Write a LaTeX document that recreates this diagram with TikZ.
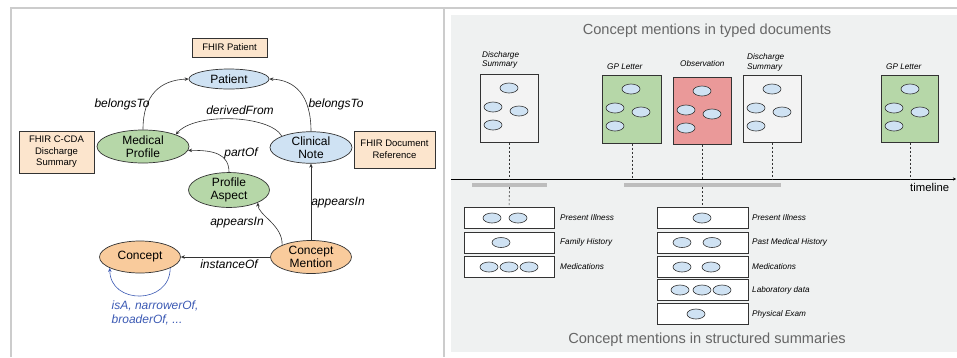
\documentclass[tikz,border=0pt]{standalone}
\usepackage{fontspec}
\setmainfont{Liberation Sans}
\usetikzlibrary{shapes.geometric,arrows.meta,calc}
\definecolor{frameC}{HTML}{CCCCCC}
\definecolor{panelC}{HTML}{EFF1F1}
\definecolor{blueC}{HTML}{CFE2F3}
\definecolor{greenC}{HTML}{B6D7A8}
\definecolor{orangeC}{HTML}{F9CB9C}
\definecolor{fhirC}{HTML}{FCE5CD}
\definecolor{redC}{HTML}{EA9999}
\definecolor{docC}{HTML}{F3F3F3}
\definecolor{loopC}{HTML}{3C5AB4}
\definecolor{titleC}{HTML}{666666}
\definecolor{barC}{HTML}{BDBDBD}
\definecolor{lineC}{HTML}{333333}
\tikzset{
 ell/.style={ellipse, draw=lineC, line width=0.7pt, inner sep=0pt, align=center, font=\fontsize{12}{13.5}\selectfont},
 fhir/.style={draw=lineC, fill=fhirC, line width=0.7pt, inner sep=0pt, align=center, font=\fontsize{9.5}{11.5}\selectfont},
 lbl/.style={font=\fontsize{12}{14}\selectfont\itshape, inner sep=0pt},
 rel/.style={line width=0.6pt, draw=lineC, -{Stealth[length=4pt,width=3.5pt]}},
 mini/.style={ellipse, draw=lineC, fill=blueC, minimum width=18pt, minimum height=10pt, inner sep=0pt, line width=0.6pt},
 docbox/.style={draw=lineC, line width=0.7pt, minimum width=58pt, minimum height=68pt, inner sep=0pt},
 rowbox/.style={draw=lineC, fill=white, line width=0.7pt, minimum height=21pt, inner sep=0pt},
 small/.style={font=\fontsize{8.2}{9.7}\selectfont\itshape, inner sep=0pt, align=left},
 dashln/.style={dash pattern=on 2pt off 2pt, line width=0.6pt, draw=lineC},
 title/.style={font=\fontsize{14.6}{16}\selectfont, text=titleC, inner sep=0pt},
}
\begin{document}
\begin{tikzpicture}[x=1pt,y=-1pt]
\fill[white] (0,0) rectangle (957,357);
\useasboundingbox (0,0) rectangle (957,357);
% frame
\draw[frameC, line width=2pt] (11,357) -- (11,7.5) -- (957,7.5);
\draw[frameC, line width=2pt] (443.7,7.5) -- (443.7,357);
\fill[panelC] (451,15) rectangle (957,352);

% ---------- left panel ----------
\node[fhir, minimum width=75pt, minimum height=19pt] (fp) at (229.5,47.5) {FHIR Patient};
\node[fhir, minimum width=75pt, minimum height=42pt] (fc) at (56.5,152) {FHIR C-CDA\\Discharge\\Summary};
\node[fhir, minimum width=81pt, minimum height=37pt] (fd) at (394.5,149.5) {FHIR Document\\Reference};

\node[ell, fill=blueC, minimum width=80pt, minimum height=20pt] (pat) at (229,79) {Patient};
\node[ell, fill=greenC, minimum width=92pt, minimum height=33pt] (mp) at (143,146.5) {Medical\\Profile};
\node[ell, fill=blueC, minimum width=82pt, minimum height=31pt] (cn) at (311,147.5) {Clinical\\Note};
\node[ell, fill=greenC, minimum width=81pt, minimum height=30pt] (pa) at (229,190) {Profile\\Aspect};
\node[ell, fill=orangeC, minimum width=81pt, minimum height=33pt] (cm) at (311,257) {Concept\\Mention};
\node[ell, fill=orangeC, minimum width=81pt, minimum height=32pt] (con) at (140,257) {Concept};

\draw[rel] (mp.north) .. controls (143,95) and (160,80) .. (pat.west);
\draw[rel] (cn.north) .. controls (311,95) and (295,80) .. (pat.east);
\draw[rel] (cn.north west) .. controls (270,115) and (195,112) .. (mp.north east);
\draw[rel] (pa.north) .. controls (229,154) and (214,150) .. (mp.-5);
\draw[rel] (cm.north west) .. controls (283,225) and (258,215) .. (pa.south east);
\draw[rel] (cm.north) -- (cn.south);
\draw[rel] (cm.west) -- (con.east);
\draw[rel, draw=loopC] (con.-20) .. controls (170,305) and (110,305) .. (con.-160);

\node[lbl] (l1) at (122,104) {belongsTo};
\node[lbl] (l2) at (336,104) {belongsTo};
\node[lbl] (l3) at (240,110) {derivedFrom};
\node[lbl] (l4) at (241,153) {partOf};
\node[lbl] (l5) at (237,223) {appearsIn};
\node[lbl] (l6) at (338,203) {appearsIn};
\node[lbl] (l7) at (229,264) {instanceOf};
\node[lbl, text=loopC, anchor=west, align=left, font=\fontsize{12}{14}\selectfont\itshape] (l8) at (111.5,313) {isA, narrowerOf,\\broaderOf, ...};

% ---------- right panel ----------
\node[title] (t1) at (707,31) {Concept mentions in typed documents};
\node[title] (t2) at (707,339.5) {Concept mentions in structured summaries};

\coordinate (tl0) at (451,179);
\coordinate (tl1) at (956,179);
\draw[line width=0.8pt, black, -{Stealth[length=3pt,width=3pt]}] (tl0) -- (tl1);
\node[font=\fontsize{11.3}{13}\selectfont, inner sep=0pt, anchor=west] (tlt) at (910,187) {timeline};

\node[docbox, fill=docC, anchor=north west] (d1) at (480,74) {};
\node[docbox, fill=greenC, anchor=north west, minimum width=59pt] (d2) at (602,75) {};
\node[docbox, fill=redC, anchor=north west, minimum height=67pt] (d3) at (673,77) {};
\node[docbox, fill=docC, anchor=north west, minimum height=67pt] (d4) at (743,75) {};
\node[docbox, fill=greenC, anchor=north west, minimum width=57pt, minimum height=67pt] (d5) at (881,75) {};

\foreach \d in {d1,d2,d3,d4,d5}{
  \node[mini] (\d e1) at ($(\d.north west)+(29,14)$) {};
  \node[mini] (\d e2) at ($(\d.north west)+(13,33)$) {};
  \node[mini] (\d e3) at ($(\d.north west)+(39,37)$) {};
  \node[mini] (\d e4) at ($(\d.north west)+(13,51)$) {};
  \draw[dashln] (\d.south) -- (\d.south |- tl0);
}

\node[small, anchor=west] (dl1) at (482,60) {Discharge\\Summary};
\node[small, anchor=west] (dl2) at (607,67) {GP Letter};
\node[small, anchor=west] (dl3) at (680,64) {Observation};
\node[small, anchor=west] (dl4) at (747,62.5) {Discharge\\Summary};
\node[small, anchor=west] (dl5) at (886,67) {GP Letter};

\coordinate (b1a) at (472,185); \coordinate (b1b) at (547,185);
\coordinate (b2a) at (624,185); \coordinate (b2b) at (781,185);
\draw[barC, line width=3.5pt] (b1a) -- (b1b);
\draw[barC, line width=3.5pt] (b2a) -- (b2b);

% summary boxes
\node[rowbox, minimum width=90pt] (sa1) at (509,217.5) {};
\node[rowbox, minimum width=90pt] (sa2) at (509,242.5) {};
\node[rowbox, minimum width=90pt] (sa3) at (509,266.5) {};
\node[rowbox, minimum width=91pt] (sb1) at (702.5,217.5) {};
\node[rowbox, minimum width=91pt] (sb2) at (702.5,242.5) {};
\node[rowbox, minimum width=91pt] (sb3) at (702.5,266.5) {};
\node[rowbox, minimum width=91pt] (sb4) at (702.5,289.5) {};
\node[rowbox, minimum width=91pt] (sb5) at (702.5,313.5) {};

\draw[dashln] ($(b1a)!0.5!(b1b)+(0,2)$) -- (sa1.north);
\draw[dashln] ($(b2a)!0.5!(b2b)+(0,2)$) -- (sb1.north);

\node[mini] (a11) at (492,218) {};
\node[mini] (a12) at (518,218) {};
\node[mini] (a21) at (501,242.5) {};
\node[mini] (a31) at (489,267) {};
\node[mini] (a32) at (509,267) {};
\node[mini] (a33) at (529,267) {};
\node[mini] (b11) at (702,218) {};
\node[mini] (b21) at (682,242.5) {};
\node[mini] (b22) at (712,242.5) {};
\node[mini] (b31) at (682,267) {};
\node[mini] (b32) at (711,267) {};
\node[mini] (b41) at (680,290) {};
\node[mini] (b42) at (702,290) {};
\node[mini] (b43) at (722,290) {};
\node[mini] (b51) at (696,314) {};

\node[small, anchor=west] (sal1) at (560,218) {Present Illness};
\node[small, anchor=west] (sal2) at (560,242.5) {Family History};
\node[small, anchor=west] (sal3) at (560,267) {Medications};
\node[small, anchor=west] (sbl1) at (752,218) {Present Illness};
\node[small, anchor=west] (sbl2) at (752,242.5) {Past Medical History};
\node[small, anchor=west] (sbl3) at (752,267) {Medications};
\node[small, anchor=west] (sbl4) at (752,290) {Laboratory data};
\node[small, anchor=west] (sbl5) at (752,314) {Physical Exam};
\end{tikzpicture}
\end{document}
